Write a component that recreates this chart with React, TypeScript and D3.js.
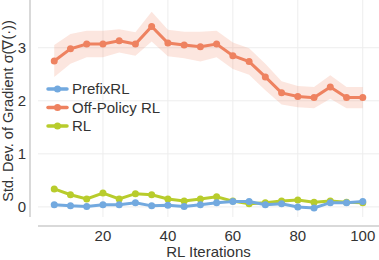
import { useEffect, useRef } from 'react';
import * as d3 from 'd3';

const iterations = [5, 10, 15, 20, 25, 30, 35, 40, 45, 50, 55, 60, 65, 70, 75, 80, 85, 90, 95, 100];
const offPolicy = [2.75, 2.98, 3.07, 3.07, 3.13, 3.07, 3.4, 3.09, 3.05, 3.02, 3.07, 2.85, 2.74, 2.45, 2.15, 2.08, 2.06, 2.26, 2.06, 2.06];
const offPolicyErr = [0.3, 0.28, 0.25, 0.25, 0.22, 0.22, 0.28, 0.25, 0.25, 0.28, 0.25, 0.25, 0.25, 0.25, 0.22, 0.2, 0.2, 0.22, 0.2, 0.2];
const rl = [0.34, 0.23, 0.15, 0.26, 0.15, 0.25, 0.23, 0.15, 0.11, 0.15, 0.19, 0.11, 0.06, 0.08, 0.11, 0.13, 0.09, 0.11, 0.09, 0.08];
const prefixRL = [0.04, 0.02, 0.01, 0.04, 0.04, 0.08, 0.02, 0.03, 0.01, 0.04, 0.08, 0.1, 0.1, 0.04, 0.06, 0.0, -0.02, 0.08, 0.08, 0.1];
const xTicks = [20, 40, 60, 80, 100];
const yTicks = [0, 1, 2, 3];

const legendItems = [
  { name: 'PrefixRL', color: '#72a9df' },
  { name: 'Off-Policy RL', color: '#ee8260' },
  { name: 'RL', color: '#b8cc2c' },
];

const App = () => {
  const svgRef = useRef<SVGSVGElement>(null);

  useEffect(() => {
    const svg = d3.select(svgRef.current);
    svg.selectAll('*').remove();

    const font = 'Liberation Sans, Arial, sans-serif';
    const fs = 15;
    const left = 38, right = 379, top = 0, bottom = 217;

    const x = d3.scaleLinear().domain([0, 105]).range([left, right]);
    const y = d3.scaleLinear().domain([-0.19, 3.9]).range([bottom, top]);

    // grid
    const grid = svg.append('g');
    grid.selectAll('.gx').data(xTicks).enter().append('line')
      .attr('x1', d => x(d)).attr('x2', d => x(d))
      .attr('y1', top).attr('y2', bottom)
      .attr('stroke', '#ededed').attr('stroke-width', 1);
    grid.selectAll('.gy').data(yTicks).enter().append('line')
      .attr('x1', left).attr('x2', right)
      .attr('y1', d => y(d)).attr('y2', d => y(d))
      .attr('stroke', '#ededed').attr('stroke-width', 1);

    // spines (offset)
    svg.append('line').attr('x1', 30).attr('x2', 30).attr('y1', 0).attr('y2', bottom)
      .attr('stroke', '#cccccc').attr('stroke-width', 1.5);
    svg.append('line').attr('x1', left).attr('x2', right).attr('y1', 226).attr('y2', 226)
      .attr('stroke', '#cccccc').attr('stroke-width', 1.5);

    // tick labels
    svg.selectAll('.yt').data(yTicks).enter().append('text')
      .attr('x', 26).attr('y', d => y(d)).attr('dy', '0.35em')
      .attr('text-anchor', 'end').attr('font-family', font).attr('font-size', fs)
      .attr('fill', '#333').text(d => d);
    svg.selectAll('.xt').data(xTicks).enter().append('text')
      .attr('x', d => x(d)).attr('y', 241)
      .attr('text-anchor', 'middle').attr('font-family', font).attr('font-size', fs)
      .attr('fill', '#333').text(d => d);

    // axis titles
    svg.append('text')
      .attr('x', x(52.5)).attr('y', 257)
      .attr('text-anchor', 'middle').attr('font-family', font).attr('font-size', fs)
      .attr('fill', '#333').text('RL Iterations');
    svg.append('text')
      .attr('transform', 'translate(13,111) rotate(-90)')
      .attr('text-anchor', 'middle').attr('font-family', font).attr('font-size', 14.5)
      .attr('fill', '#333').text('Std. Dev. of Gradient σ(∇(·))');

    // band
    const area = d3.area<number>()
      .x((_, i) => x(iterations[i]))
      .y0((d, i) => y(d - offPolicyErr[i]))
      .y1((d, i) => y(d + offPolicyErr[i]));
    svg.append('path').datum(offPolicy).attr('d', area)
      .attr('fill', legendItems[1].color).attr('opacity', 0.2);

    const line = d3.line<number>().x((_, i) => x(iterations[i])).y(d => y(d));
    const series = [
      { values: rl, color: legendItems[2].color },
      { values: prefixRL, color: legendItems[0].color },
      { values: offPolicy, color: legendItems[1].color },
    ];
    series.forEach(s => {
      svg.append('path').datum(s.values).attr('d', line)
        .attr('fill', 'none').attr('stroke', s.color).attr('stroke-width', 3);
      svg.append('g').selectAll('circle').data(s.values).enter().append('circle')
        .attr('cx', (_, i) => x(iterations[i])).attr('cy', d => y(d))
        .attr('r', 3.5).attr('fill', s.color);
    });

    // legend
    const legend = svg.append('g');
    legendItems.forEach((item, i) => {
      const ly = 89 + i * 18.5;
      legend.append('line').attr('x1', 48).attr('x2', 67).attr('y1', ly).attr('y2', ly)
        .attr('stroke', item.color).attr('stroke-width', 3.5).attr('stroke-linecap', 'round');
      legend.append('circle').attr('cx', 57.5).attr('cy', ly).attr('r', 3.5).attr('fill', item.color);
      legend.append('text').attr('x', 72).attr('y', ly).attr('dy', '0.35em')
        .attr('font-family', font).attr('font-size', fs).attr('fill', '#333').text(item.name);
    });
  }, []);

  return (
    <svg ref={svgRef} width={379} height={260}
      style={{ position: 'absolute', left: 0, top: 0, background: '#fff' }} />
  );
};

export default App;
